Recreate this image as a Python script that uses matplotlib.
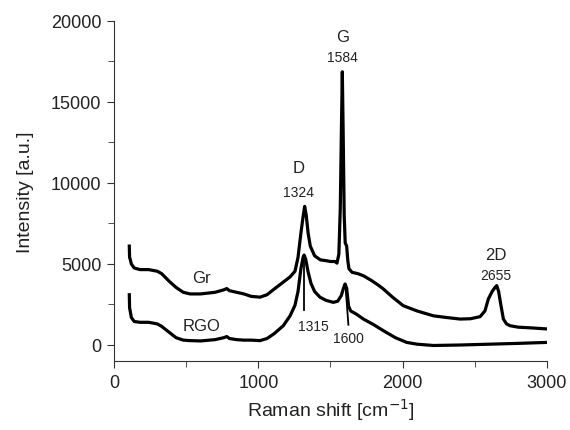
import matplotlib
matplotlib.use("Agg")
import matplotlib.pyplot as plt
from matplotlib.ticker import MultipleLocator

plt.rcParams['font.family'] = ['Liberation Sans', 'DejaVu Sans']

# Gr spectrum
gr_x = [106, 108, 112, 120, 140, 180, 240, 300, 330, 380, 430, 480, 527, 600, 700, 760, 781,
        800, 850, 900, 950, 1012, 1060, 1110, 1173, 1220, 1254, 1275, 1295, 1310, 1321, 1332,
        1345, 1360, 1390, 1430, 1470, 1500, 1530, 1545, 1558, 1568, 1576, 1582, 1588, 1595,
        1602, 1612, 1620, 1628, 1650, 1690, 1728, 1780, 1830, 1867, 1930, 2005, 2100, 2213,
        2300, 2398, 2470, 2537, 2570, 2594, 2620, 2640, 2652, 2665, 2680, 2698, 2720, 2744,
        2800, 2900, 3000]
gr_y = [6100, 5400, 5300, 5000, 4750, 4650, 4650, 4550, 4400, 3950, 3550, 3250, 3150, 3150,
        3250, 3400, 3480, 3350, 3250, 3150, 3000, 2950, 3100, 3450, 3880, 4200, 4550, 5400,
        6900, 7900, 8550, 8000, 6900, 6100, 5500, 5250, 5200, 5150, 5150, 5050, 5600, 8500,
        13500, 16850, 13000, 8000, 6300, 6100, 5200, 4700, 4480, 4400, 4270, 4000, 3700,
        3450, 2950, 2420, 2100, 1800, 1700, 1600, 1620, 1750, 2100, 2840, 3300, 3550, 3660,
        3300, 2500, 1600, 1300, 1190, 1100, 1050, 990]

# RGO spectrum
rgo_x = [106, 108, 112, 120, 140, 180, 240, 300, 330, 380, 430, 480, 527, 600, 700, 760, 781,
         800, 850, 900, 950, 1012, 1060, 1110, 1173, 1220, 1254, 1275, 1295, 1310, 1317, 1328,
         1345, 1365, 1390, 1427, 1470, 1520, 1550, 1575, 1590, 1601, 1612, 1625, 1640, 1680,
         1728, 1800, 1867, 1950, 2028, 2100, 2213, 2400, 2600, 2800, 3000]
rgo_y = [3100, 2300, 2100, 1700, 1450, 1400, 1400, 1300, 1150, 800, 450, 300, 270, 250, 330,
         450, 520, 400, 330, 300, 300, 270, 400, 700, 1190, 1800, 2450, 3300, 4700, 5400,
         5550, 5300, 4500, 3800, 3300, 2950, 2750, 2630, 2700, 3050, 3500, 3760, 3500, 2400,
         2100, 1900, 1600, 1250, 880, 450, 160, 50, -30, 0, 50, 100, 160]

# annotations: (text, x, y, size)
labels = [("G", 1584, 19000, 12), ("1584", 1584, 17750, 10),
          ("D", 1279, 10970, 12), ("1324", 1279, 9430, 10),
          ("2D", 2648, 5600, 12), ("2655", 2648, 4310, 10),
          ("Gr", 607, 4180, 12), ("RGO", 607, 1190, 12),
          ("1315", 1381, 1190, 10), ("1600", 1624, 410, 10)]
# pointer lines: (x0, y0, x1, y1)
pointers = [(1317, 5500, 1317, 2150), (1603, 3750, 1624, 1250)]

fig = plt.figure(figsize=(5.7, 4.31), dpi=100)
ax = fig.add_axes([0.2, 0.1596, 0.7596, 0.79])
ax.plot(gr_x, gr_y, color='black', lw=2.3)
ax.plot(rgo_x, rgo_y, color='black', lw=2.3)
for t, x, y, s in labels:
    ax.text(x, y, t, ha='center', va='center', fontsize=s, color='#222222')
for x0, y0, x1, y1 in pointers:
    ax.plot([x0, x1], [y0, y1], color='black', lw=1.3)

ax.set_xlim(0, 3000)
ax.set_ylim(-1000, 20000)
ax.xaxis.set_major_locator(MultipleLocator(1000))
ax.xaxis.set_minor_locator(MultipleLocator(500))
ax.yaxis.set_major_locator(MultipleLocator(5000))
ax.yaxis.set_minor_locator(MultipleLocator(2500))
ax.tick_params(which='both', direction='out', labelsize=13, color='#333333',
               labelcolor='#222222', pad=4)
ax.tick_params(which='major', length=5)
ax.tick_params(which='minor', length=4)
for s in ['top', 'right']:
    ax.spines[s].set_visible(False)
for s in ['left', 'bottom']:
    ax.spines[s].set_color('#333333')
ax.set_xlabel('Raman shift [cm$^{-1}$]', fontsize=14, color='#222222', labelpad=4)
ax.set_ylabel('Intensity [a.u.]', fontsize=14, color='#222222', labelpad=12)
fig.savefig('out.png', dpi=100)
